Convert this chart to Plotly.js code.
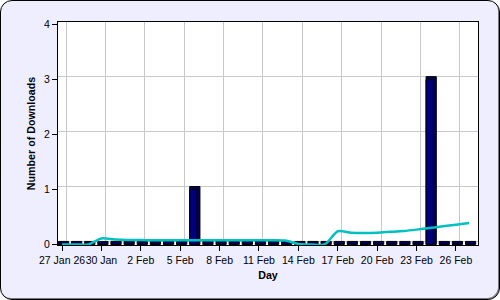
<!DOCTYPE html>
<html>
<head>
<meta charset="utf-8">
<script src="https://cdn.plot.ly/plotly-3.0.1.min.js"></script>
<style>
  html, body { margin: 0; padding: 0; background: #ffffff; }
  #wrap { position: relative; width: 500px; height: 300px; }
  #bg { position: absolute; left: 0; top: 0; width: 500px; height: 300px; box-sizing: border-box;
        background: #eeeeff; border: 1px solid #000; border-radius: 12px;
        box-shadow: inset -1px -1px 0 #777; }
  #chart { position: absolute; left: 0; top: 0; width: 500px; height: 300px; }
</style>
</head>
<body>
<div id="wrap"><div id="bg"></div><div id="chart"></div></div>
<script>
// ---- data ----
const dates = [
  "2026-01-27","2026-01-28","2026-01-29","2026-01-30","2026-01-31",
  "2026-02-01","2026-02-02","2026-02-03","2026-02-04","2026-02-05",
  "2026-02-06","2026-02-07","2026-02-08","2026-02-09","2026-02-10",
  "2026-02-11","2026-02-12","2026-02-13","2026-02-14","2026-02-15",
  "2026-02-16","2026-02-17","2026-02-18","2026-02-19","2026-02-20",
  "2026-02-21","2026-02-22","2026-02-23","2026-02-24","2026-02-25",
  "2026-02-26","2026-02-27"
];
const downloads = [
  0,0,0,0,0,
  0,0,0,0,0,
  1,0,0,0,0,
  0,0,0,0,0,
  0,0,0,0,0,
  0,0,0,3,0,
  0,0
];
const trend = [
  0.00,0.00,0.00,0.11,0.09,
  0.08,0.08,0.075,0.075,0.075,
  0.075,0.075,0.075,0.075,0.075,
  0.075,0.075,0.07,0.01,0.00,
  0.00,0.24,0.215,0.21,0.215,
  0.23,0.245,0.27,0.30,0.33,
  0.36,0.39
];
const tickDates = ["2026-01-27","2026-01-30","2026-02-02","2026-02-05","2026-02-08","2026-02-11",
                   "2026-02-14","2026-02-17","2026-02-20","2026-02-23","2026-02-26"];
const tickLabels = ["27 Jan 26","30 Jan","2 Feb","5 Feb","8 Feb","11 Feb",
                    "14 Feb","17 Feb","20 Feb","23 Feb","26 Feb"];
const yTicks = [0,1,2,3,4];

// ---- styling / geometry ----
const DAY = 86400000;
const t0 = Date.parse(dates[0]);
const xRange = [t0 - 0.305*DAY, t0 + 31.68*DAY];
const yRange = [-0.01, 4.05];
const dx = 0.305*DAY;   // 3D depth shift (x)
const dy = 0.055;       // 3D depth shift (y)
const FONT = "Liberation Sans, Arial, sans-serif";

const shadow = {
  type: 'bar', x: dates, y: downloads.map(v => v + dy),
  width: 0.78*DAY, offset: -0.275*DAY,
  marker: {color: '#000058', line: {color: '#000000', width: 1}},
  hoverinfo: 'skip', showlegend: false
};
const front = {
  type: 'bar', x: dates, y: downloads,
  width: 0.55*DAY, offset: -0.275*DAY,
  marker: {color: '#000080', line: {color: '#000000', width: 1}},
  name: 'Downloads', showlegend: false
};
const trendLine = {
  type: 'scatter', mode: 'lines', x: dates, y: trend,
  line: {color: '#00c0c0', width: 2.5, shape: 'spline', smoothing: 0.7},
  name: 'Trend', showlegend: false
};
const gridHelper = {
  type: 'scatter', mode: 'markers', x: dates, y: downloads,
  xaxis: 'x2', yaxis: 'y2', marker: {opacity: 0},
  hoverinfo: 'skip', showlegend: false
};

const layout = {
  width: 500, height: 300,
  margin: {l: 58, r: 22, t: 22, b: 55},
  paper_bgcolor: 'rgba(0,0,0,0)',
  plot_bgcolor: '#ffffff',
  barmode: 'overlay',
  showlegend: false,
  font: {family: FONT, size: 10.5, color: '#000'},
  xaxis: {
    type: 'date', range: xRange,
    tickmode: 'array', tickvals: tickDates, ticktext: tickLabels, tickangle: 0,
    ticks: 'outside', ticklen: 5, tickcolor: '#000',
    showgrid: false, zeroline: false,
    showline: true, linecolor: '#000', linewidth: 1, mirror: true,
    tickfont: {family: FONT, size: 10.5, color: '#000'},
    title: {text: 'Day', font: {family: FONT, size: 10.7, color: '#000', weight: 'bold'}, standoff: 6}
  },
  yaxis: {
    range: yRange, tickmode: 'array', tickvals: yTicks,
    ticks: 'outside', ticklen: 5, tickcolor: '#000',
    showgrid: false, zeroline: false,
    showline: true, linecolor: '#000', linewidth: 1, mirror: true,
    tickfont: {family: FONT, size: 10.5, color: '#000'},
    title: {text: 'Number of Downloads', font: {family: FONT, size: 10.7, color: '#000', weight: 'bold'}, standoff: 6}
  },
  xaxis2: {
    type: 'date', overlaying: 'x', range: [xRange[0] - dx, xRange[1] - dx],
    tickmode: 'array', tickvals: tickDates, showticklabels: false, ticks: '',
    showgrid: true, gridcolor: '#c8c8c8', gridwidth: 1, zeroline: false, showline: false
  },
  yaxis2: {
    overlaying: 'y', range: [yRange[0] - dy, yRange[1] - dy],
    tickmode: 'array', tickvals: yTicks, showticklabels: false, ticks: '',
    showgrid: true, gridcolor: '#c8c8c8', gridwidth: 1, zeroline: false, showline: false
  }
};

Plotly.newPlot('chart', [shadow, front, trendLine, gridHelper], layout, {displayModeBar: false, staticPlot: true});
</script>
</body>
</html>
